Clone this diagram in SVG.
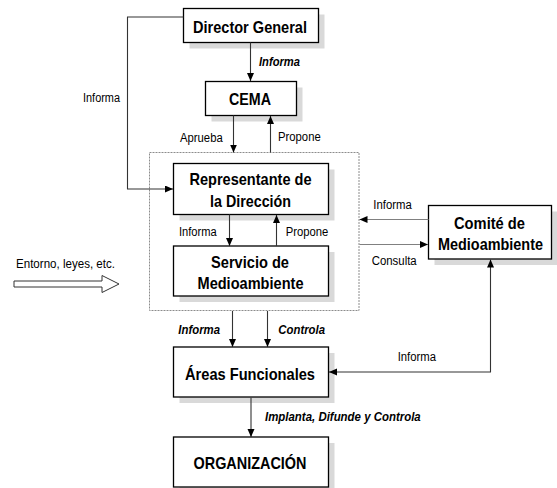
<svg xmlns="http://www.w3.org/2000/svg" width="557" height="488" viewBox="0 0 557 488">
  <style>
    .box { fill: #ffffff; stroke: #000000; stroke-width: 1.3; }
    .shadow { fill: #d9d9d9; stroke: none; }
    .title { font-family: "Liberation Sans Narrow", "Arial Narrow", "Liberation Sans", Arial, sans-serif; font-weight: bold; font-size: 17px; fill: #000; }
    .lbl { font-family: "Liberation Sans Narrow", "Arial Narrow", "Liberation Sans", Arial, sans-serif; font-size: 12.5px; fill: #000; }
    .lbi { font-family: "Liberation Sans Narrow", "Arial Narrow", "Liberation Sans", Arial, sans-serif; font-size: 12.5px; font-weight: bold; font-style: italic; fill: #000; }
    .conn { fill: none; stroke: #333333; stroke-width: 1.1; }
    .gconn { fill: none; stroke: #808080; stroke-width: 1.1; }
    .frame { fill: none; stroke: #8c8c8c; stroke-width: 1; stroke-dasharray: 2 1; }
  </style>
  <defs>
    <marker id="ah" markerUnits="userSpaceOnUse" markerWidth="9" markerHeight="8" refX="8" refY="3.5" orient="auto-start-reverse" viewBox="0 0 9 8">
      <path d="M0,0 L8,3.5 L0,7 z" fill="#000000"/>
    </marker>
  </defs>

  <rect id="frame" class="frame" x="149.5" y="152.5" width="209.5" height="158"/>

  <g id="director">
    <rect class="shadow" x="189.5" y="14.5" width="135" height="34"/>
    <rect class="box" x="183.5" y="8.5" width="135" height="34"/>
    <text class="title" x="193" y="32.5" textLength="114" lengthAdjust="spacingAndGlyphs">Director General</text>
  </g>

  <g id="cema">
    <rect class="shadow" x="211.5" y="87.5" width="91" height="34"/>
    <rect class="box" x="205.5" y="81.5" width="91" height="34"/>
    <text class="title" x="229" y="104.5" textLength="42" lengthAdjust="spacingAndGlyphs">CEMA</text>
  </g>

  <g id="representante">
    <rect class="shadow" x="179.5" y="169.5" width="155" height="51"/>
    <rect class="box" x="173.5" y="163.5" width="155" height="51"/>
    <text class="title" x="189.5" y="184.5" textLength="122" lengthAdjust="spacingAndGlyphs">Representante de</text>
    <text class="title" x="210" y="206.5" textLength="81" lengthAdjust="spacingAndGlyphs">la Dirección</text>
  </g>

  <g id="servicio">
    <rect class="shadow" x="179.5" y="252" width="155" height="50"/>
    <rect class="box" x="173.5" y="246" width="155" height="50"/>
    <text class="title" x="211" y="267.5" textLength="78" lengthAdjust="spacingAndGlyphs">Servicio de</text>
    <text class="title" x="197.5" y="288.5" textLength="106" lengthAdjust="spacingAndGlyphs">Medioambiente</text>
  </g>

  <g id="comite">
    <rect class="shadow" x="434.5" y="211.5" width="123" height="53.5"/>
    <rect class="box" x="428.5" y="205.5" width="123" height="53.5"/>
    <text class="title" x="454" y="228.5" textLength="71" lengthAdjust="spacingAndGlyphs">Comité de</text>
    <text class="title" x="438" y="249.5" textLength="105" lengthAdjust="spacingAndGlyphs">Medioambiente</text>
  </g>

  <g id="areas">
    <rect class="shadow" x="179.5" y="353" width="155" height="50"/>
    <rect class="box" x="173.5" y="347" width="155" height="50"/>
    <text class="title" x="185" y="379.5" textLength="130" lengthAdjust="spacingAndGlyphs">Áreas Funcionales</text>
  </g>

  <g id="organizacion">
    <rect class="shadow" x="179.5" y="443" width="155" height="50"/>
    <rect class="box" x="173.5" y="437" width="155" height="50"/>
    <text class="title" x="193.5" y="469" textLength="113" lengthAdjust="spacingAndGlyphs">ORGANIZACIÓN</text>
  </g>

  <g id="connectors">
    <line class="conn" x1="250.5" y1="42.5" x2="250.5" y2="81" marker-end="url(#ah)"/>
    <polyline class="conn" points="183.5,17 127.5,17 127.5,189 173,189" marker-end="url(#ah)"/>
    <line class="conn" x1="233.5" y1="115.5" x2="233.5" y2="152.5" marker-end="url(#ah)"/>
    <line class="conn" x1="270.5" y1="152.5" x2="270.5" y2="116" marker-end="url(#ah)"/>
    <line class="conn" x1="229.5" y1="214.5" x2="229.5" y2="246" marker-end="url(#ah)"/>
    <line class="conn" x1="276.5" y1="246" x2="276.5" y2="215" marker-end="url(#ah)"/>
    <line class="gconn" x1="428.5" y1="219.5" x2="359.5" y2="219.5" marker-end="url(#ah)"/>
    <line class="gconn" x1="359.5" y1="244.5" x2="428" y2="244.5" marker-end="url(#ah)"/>
    <line class="conn" x1="232.5" y1="311" x2="232.5" y2="347" marker-end="url(#ah)"/>
    <line class="conn" x1="267.5" y1="311" x2="267.5" y2="347" marker-end="url(#ah)"/>
    <polyline class="conn" points="490.5,259.5 490.5,372 329,372" marker-start="url(#ah)" marker-end="url(#ah)"/>
    <line class="conn" x1="251" y1="397.5" x2="251" y2="437" marker-end="url(#ah)"/>
    <polygon id="entorno-arrow" points="14,281 102,281 102,275.5 119,284 102,292.5 102,287 14,287" fill="#ffffff" stroke="#333333" stroke-width="1"/>
  </g>

  <g id="labels">
    <text class="lbi" x="259" y="65.5" textLength="41" lengthAdjust="spacingAndGlyphs">Informa</text>
    <text class="lbl" x="83" y="101.5" textLength="37" lengthAdjust="spacingAndGlyphs">Informa</text>
    <text class="lbl" x="180" y="141.5" textLength="42.7" lengthAdjust="spacingAndGlyphs">Aprueba</text>
    <text class="lbl" x="278" y="141" textLength="42.7" lengthAdjust="spacingAndGlyphs">Propone</text>
    <text class="lbl" x="179" y="235.7" textLength="37.7" lengthAdjust="spacingAndGlyphs">Informa</text>
    <text class="lbl" x="285.7" y="236" textLength="42.6" lengthAdjust="spacingAndGlyphs">Propone</text>
    <text class="lbl" x="373.3" y="209" textLength="38.4" lengthAdjust="spacingAndGlyphs">Informa</text>
    <text class="lbl" x="371.7" y="265" textLength="45" lengthAdjust="spacingAndGlyphs">Consulta</text>
    <text class="lbl" x="397.7" y="361" textLength="38.3" lengthAdjust="spacingAndGlyphs">Informa</text>
    <text class="lbl" x="16" y="267.7" textLength="99" lengthAdjust="spacingAndGlyphs">Entorno, leyes, etc.</text>
    <text class="lbi" x="178.3" y="334.3" textLength="41.7" lengthAdjust="spacingAndGlyphs">Informa</text>
    <text class="lbi" x="278.3" y="334.3" textLength="46.7" lengthAdjust="spacingAndGlyphs">Controla</text>
    <text class="lbi" x="265" y="421" textLength="155.7" lengthAdjust="spacingAndGlyphs">Implanta, Difunde y Controla</text>
  </g>
</svg>
